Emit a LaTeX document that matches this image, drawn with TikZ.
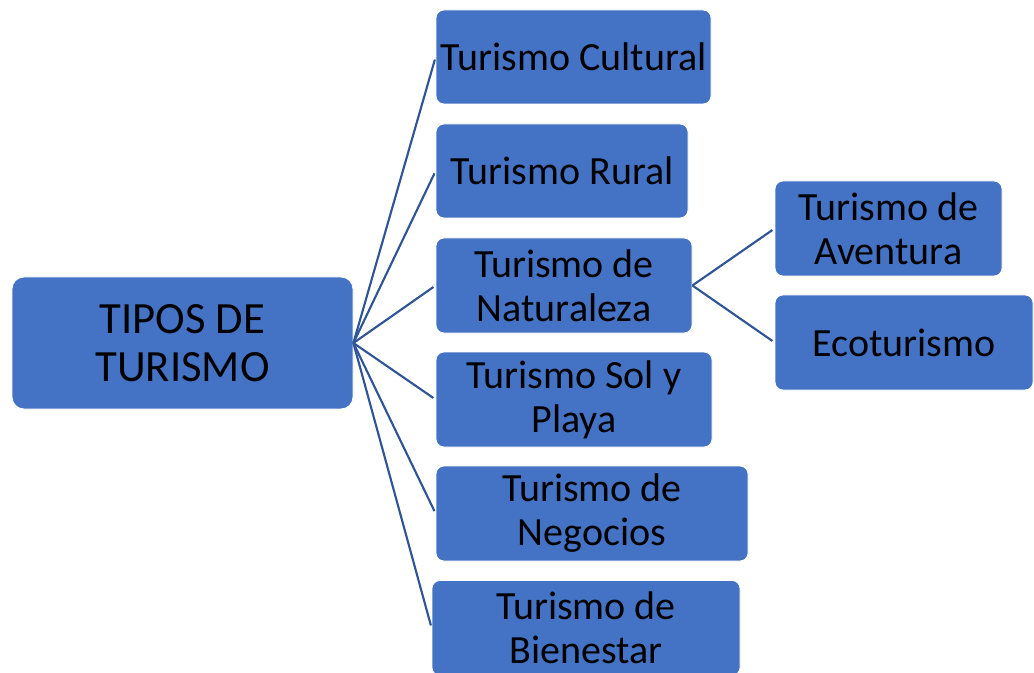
\documentclass[tikz,border=0pt]{standalone}
\usepackage{fontspec}
\setmainfont{Carlito}
\usepackage{xcolor}
\definecolor{boxblue}{HTML}{4472C4}
\definecolor{lineblue}{HTML}{2F5597}
\tikzset{
  tbox/.style 2 args={rectangle, rounded corners=6pt, fill=boxblue, draw=white, line width=0.6pt,
    minimum width=#1*0.75pt, minimum height=#2*0.75pt, inner sep=0pt, align=center,
    font=\fontsize{30pt}{33pt}\selectfont},
  link/.style={draw=lineblue, line width=1.6pt, shorten >=2pt}
}
\begin{document}
\begin{tikzpicture}[x=0.75pt, y=-0.75pt]
\clip (0,0) rectangle (1034,673);
\useasboundingbox (0,0) rectangle (1034,673);
% raiz
\node[tbox={341}{132}, rounded corners=9pt, font=\fontsize{33.5pt}{36pt}\selectfont] (root) at (182.5,343) {TIPOS DE\\TURISMO};
% tipos
\node[tbox={275}{94}] (cult) at (573.5,57) {Turismo Cultural};
\node[tbox={252}{94}] (rural) at (562,171) {Turismo Rural};
\node[tbox={256}{95}] (nat) at (564,285.5) {Turismo de\\Naturaleza};
\node[tbox={276}{95}] (playa) at (574,399.5) {Turismo Sol y\\Playa};
\node[tbox={312}{95}] (neg) at (592,513.5) {Turismo de\\Negocios};
\node[tbox={308}{95}] (bien) at (586,628) {Turismo de\\Bienestar};
% subtipos de naturaleza
\node[tbox={227}{95}] (avent) at (888.5,228.5) {Turismo de\\Aventura};
\node[tbox={258}{95}] (eco) at (904,342.5) {Ecoturismo};
\foreach \t in {cult,rural,nat,playa,neg,bien}
  \draw[link] (root.east) -- (\t.west);
\draw[link] (nat.east) -- (avent.west);
\draw[link] (nat.east) -- (eco.west);
\end{tikzpicture}
\end{document}
